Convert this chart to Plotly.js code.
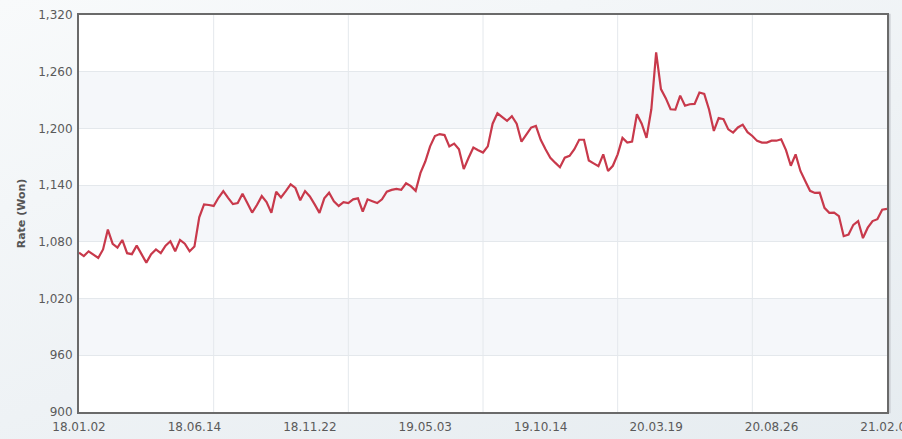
<!DOCTYPE html>
<html>
<head>
<meta charset="utf-8">
<script src="https://cdn.plot.ly/plotly-3.0.1.min.js"></script>
<style>
  html, body { margin: 0; padding: 0; }
  body { width: 902px; height: 439px; overflow: hidden;
         background: linear-gradient(160deg, #f8fafb 0%, #eef2f5 55%, #e6ecf0 100%); }
  #chart { width: 902px; height: 439px; }
</style>
</head>
<body>
<div id="chart"></div>
<script>
// Tick labels (trading-day axis, evenly spaced)
const dateLabels = ['18.01.02','18.06.14','18.11.22','19.05.03','19.10.14','20.03.19','20.08.26','21.02.02'];
// Y axis ticks (Won)
const yTicks = [900, 960, 1020, 1080, 1140, 1200, 1260, 1320];
// USD/KRW rate, roughly weekly samples
const rate = [
  1068.6, 1065, 1070, 1066, 1063, 1072, 1093, 1078, 1074, 1082,
  1068, 1067, 1076, 1067, 1058, 1067, 1072, 1068, 1076, 1080.6,
  1070, 1082, 1078, 1070, 1075, 1106, 1119.6, 1119, 1118, 1126.6,
  1133.7, 1126.6, 1120, 1121, 1131, 1121, 1111, 1119, 1128.4, 1122,
  1110.7, 1133, 1127, 1133.7, 1140.8, 1137, 1124, 1133.7, 1128, 1119.6,
  1110.7, 1126, 1132, 1123, 1118, 1122, 1121, 1125, 1126, 1112,
  1125, 1123, 1121, 1125, 1133, 1135, 1136, 1135, 1142, 1139,
  1134, 1153, 1165, 1181, 1192, 1194, 1193, 1181, 1184, 1178,
  1157, 1169, 1179.7, 1177, 1174.5, 1181, 1205, 1216, 1211.5, 1208,
  1213, 1205, 1186, 1194, 1200.9, 1202.6, 1188, 1178, 1169, 1163.8,
  1159, 1169, 1171, 1178, 1188, 1188, 1166, 1163, 1160, 1172.6,
  1155, 1160.5, 1172.6, 1190, 1185, 1186, 1215, 1205, 1190, 1220.3,
  1280.4, 1241.6, 1232, 1220.3, 1220, 1234.7, 1224, 1225.6, 1226, 1238,
  1236.5, 1220, 1197.3, 1211, 1209.7, 1199, 1195.6, 1201, 1204, 1196,
  1192, 1186.8, 1185, 1185, 1187, 1187, 1188.5, 1177, 1160.5, 1172.6,
  1155, 1144.3, 1134, 1131.8, 1132, 1116, 1110.7, 1111, 1107.3, 1086,
  1087.7, 1098, 1102, 1084, 1095, 1102, 1104, 1114, 1115
];

const N = rate.length;
const xIdx = rate.map((_, i) => i);
const last = N - 1;
const labelPos = dateLabels.map((_, k) => k * last / (dateLabels.length - 1));
const gridCount = 6;

const shapes = [];
// alternating horizontal bands
for (let i = 1; i < yTicks.length - 1; i += 2) {
  shapes.push({type: 'rect', xref: 'paper', yref: 'y', x0: 0, x1: 1,
    y0: yTicks[i], y1: yTicks[i + 1], fillcolor: '#f5f7fa', line: {width: 0}, layer: 'below'});
}
// vertical grid lines (independent of label spacing)
for (let k = 1; k < gridCount; k++) {
  const gx = k * last / gridCount;
  shapes.push({type: 'line', xref: 'x', yref: 'paper', x0: gx, x1: gx, y0: 0, y1: 1,
    line: {color: '#e4e8ec', width: 1}, layer: 'below'});
}
// soft shadow to the right of the frame
shapes.push({type: 'line', xref: 'paper', yref: 'paper', x0: 1.0035, x1: 1.0035, y0: -0.003, y1: 1.003,
  line: {color: '#c9cdd1', width: 1.5}});

const trace = {
  x: xIdx, y: rate, type: 'scatter', mode: 'lines',
  line: {color: '#c8394b', width: 2.2}, hoverinfo: 'skip'
};

const layout = {
  width: 902, height: 439,
  margin: {l: 79, r: 15, t: 15, b: 27},
  paper_bgcolor: 'rgba(0,0,0,0)',
  plot_bgcolor: '#ffffff',
  showlegend: false,
  font: {family: 'DejaVu Sans, Verdana, sans-serif', color: '#5a5a5a', size: 12},
  xaxis: {
    range: [0, last], tickmode: 'array', tickvals: labelPos, ticktext: dateLabels,
    showgrid: false, zeroline: false,
    showline: true, linecolor: '#6a6a6a', linewidth: 2, mirror: true,
    ticks: 'outside', ticklen: 3, tickcolor: 'rgba(0,0,0,0)',
    ticklabeloverflow: 'allow',
    tickfont: {size: 12, color: '#5a5a5a'}, automargin: false, fixedrange: true
  },
  yaxis: {
    range: [yTicks[0], yTicks[yTicks.length - 1]], tickmode: 'array', tickvals: yTicks,
    tickformat: ',d', showgrid: true, gridcolor: '#e4e8ec', gridwidth: 1, zeroline: false,
    showline: true, linecolor: '#6a6a6a', linewidth: 2, mirror: true,
    ticks: 'outside', ticklen: 2, tickcolor: 'rgba(0,0,0,0)',
    ticklabeloverflow: 'allow',
    tickfont: {size: 12, color: '#5a5a5a'}, automargin: false, fixedrange: true,
    title: {text: 'Rate (Won)', font: {size: 11, color: '#555555', weight: 'bold'}, standoff: 10}
  },
  shapes: shapes
};

Plotly.newPlot('chart', [trace], layout, {staticPlot: true, displayModeBar: false});
</script>
</body>
</html>
